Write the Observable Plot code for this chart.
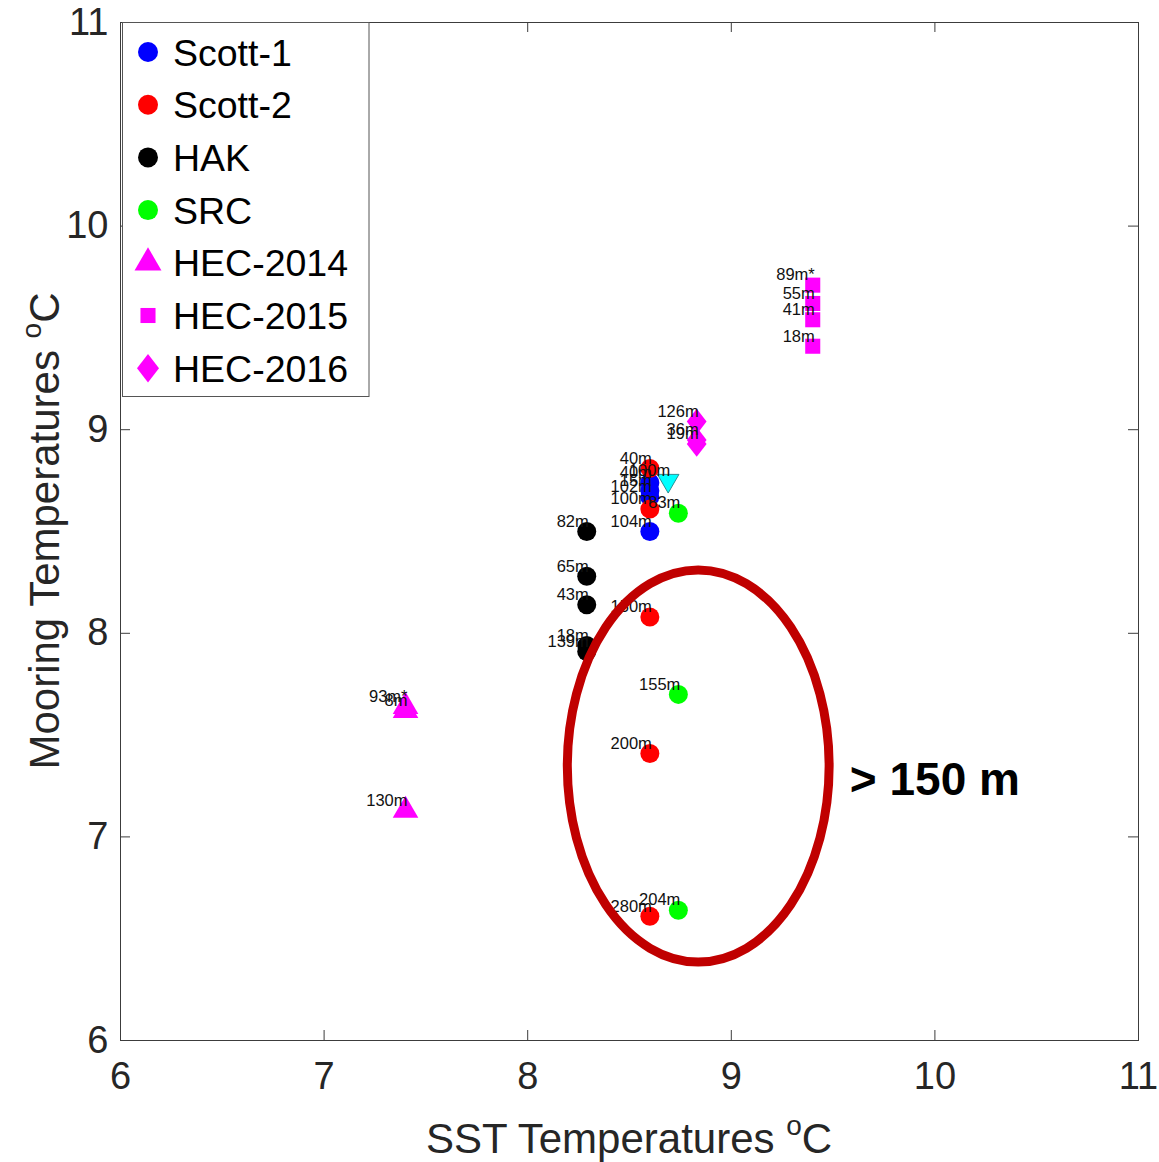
<!DOCTYPE html>
<html>
<head>
<meta charset="utf-8">
<script src="https://cdn.jsdelivr.net/npm/d3@7"></script>
<script src="https://cdn.jsdelivr.net/npm/@observablehq/plot@0.6"></script>
<style>
  html, body { margin: 0; padding: 0; background: #fff; }
  #chart svg { display: block; }
</style>
</head>
<body>
<div id="chart"></div>
<script>
// Mooring temperature vs. satellite SST, one column of depths per mooring.
const seriesNames = ["Scott-1", "Scott-2", "HAK", "SRC", "HEC-2014", "HEC-2015", "HEC-2016"];
const seriesColors = ["#0000ff", "#ff0000", "#000000", "#00ff00", "#ff00ff", "#ff00ff", "#ff00ff"];

// SST (°C) at each mooring
const sstValues = [8.6, 8.6, 8.29, 8.74, 7.40, 9.40, 8.83];

// instrument depth labels and mooring temperatures (°C) per series
const scott1Depths = ["40m", "15m", "102m", "104m"];
const scott1Temps  = [8.74, 8.70, 8.67, 8.50];
const scott2Depths = ["40m", "100m", "150m", "200m", "280m"];
const scott2Temps  = [8.81, 8.61, 8.08, 7.41, 6.61];
const hakDepths    = ["82m", "65m", "43m", "18m", "139m"];
const hakTemps     = [8.50, 8.28, 8.14, 7.94, 7.91];
const srcDepths    = ["83m", "155m", "204m"];
const srcTemps     = [8.59, 7.70, 6.64];
const hec14Depths  = ["93m*", "8m", "130m"];
const hec14Temps   = [7.64, 7.62, 7.13];
const hec15Depths  = ["89m*", "55m", "41m", "18m"];
const hec15Temps   = [9.71, 9.62, 9.54, 9.41];
const hec16Depths  = ["126m", "36m", "19m"];
const hec16Temps   = [9.04, 8.95, 8.93];

// extra instrument shown without a legend entry
const extraSst    = 8.69;
const extraDepths = ["100m"];
const extraTemps  = [8.75];

const axisTicks = [6, 7, 8, 9, 10, 11];

// highlighted deep-instrument region
const ellipseCenter = [8.84, 7.346];
const ellipseRadii  = [0.643, 0.963];
const deepNote = "> 150 m";

// rhombus a little taller than wide
const rhombus = {
  draw(context, size) {
    const w = Math.sqrt(size / 2.6), h = w * 1.3;
    context.moveTo(0, -h);
    context.lineTo(w, 0);
    context.lineTo(0, h);
    context.lineTo(-w, 0);
    context.closePath();
  }
};
const seriesSymbols = [d3.symbolCircle, d3.symbolCircle, d3.symbolCircle, d3.symbolCircle,
                       d3.symbolTriangle, d3.symbolSquare, rhombus];
const seriesR = [9.5, 9.5, 9.5, 9.5, 9.5, 8.5, 9];

const depthLists = [scott1Depths, scott2Depths, hakDepths, srcDepths, hec14Depths, hec15Depths, hec16Depths];
const tempLists  = [scott1Temps, scott2Temps, hakTemps, srcTemps, hec14Temps, hec15Temps, hec16Temps];

const seriesTables = seriesNames.map((name, i) =>
  depthLists[i].map((depth, j) => ({series: name, depth, sst: sstValues[i], temp: tempLists[i][j]}))
);
const extraTable = extraDepths.map((depth, j) => ({series: "extra", depth, sst: extraSst, temp: extraTemps[j]}));
const allPoints = seriesTables.flat().concat(extraTable);

const W = 1159, H = 1162;
const mL = 120, mR = 21, mT = 22, mB = 122;
const frameW = W - mL - mR, frameH = H - mT - mB;
const tickLen = 10;
const axisColor = "#3c3c3c";
const font = "'Liberation Sans', Arial, Helvetica, sans-serif";

const dotMarks = seriesTables.map((rows, i) =>
  Plot.dot(rows, {x: "sst", y: "temp", symbol: seriesSymbols[i], r: seriesR[i], fill: seriesColors[i], stroke: "none"})
);

const plot = Plot.plot({
  width: W,
  height: H,
  marginLeft: mL, marginRight: mR, marginTop: mT, marginBottom: mB,
  style: {fontFamily: font, color: "#262626", background: "#fff", overflow: "visible"},
  x: {domain: [6, 11]},
  y: {domain: [6, 11]},
  marks: [
    Plot.frame({stroke: axisColor, strokeWidth: 1}),
    Plot.tickX(axisTicks, {x: d => d, stroke: axisColor, insetTop: frameH - tickLen}),
    Plot.tickX(axisTicks, {x: d => d, stroke: axisColor, insetBottom: frameH - tickLen}),
    Plot.tickY(axisTicks, {y: d => d, stroke: axisColor, insetRight: frameW - tickLen}),
    Plot.tickY(axisTicks, {y: d => d, stroke: axisColor, insetLeft: frameW - tickLen}),
    Plot.axisX({ticks: axisTicks, tickFormat: d => String(d), tickSize: 0, tickPadding: 22, fontSize: 38, label: null, fill: "#262626"}),
    Plot.axisY({ticks: axisTicks, tickFormat: d => String(d), tickSize: 0, tickPadding: 12, fontSize: 38, label: null, fill: "#262626"}),
    ...dotMarks,
    Plot.dot(extraTable, {x: "sst", y: "temp", symbol: "triangle", rotate: 180, r: 8, fill: "#00ffff", stroke: "#2b8f95", strokeWidth: 1}),
    Plot.text(allPoints, {x: "sst", y: "temp", text: "depth", textAnchor: "end", dx: 2, dy: -10, fontSize: 16.5, fill: "#111"}),
    Plot.text([deepNote], {x: 10.0, y: 7.28, text: d => d, fontSize: 46, fontWeight: "bold", fill: "#000", textAnchor: "middle"})
  ]
});

const svg = d3.select(plot);
const xs = plot.scale("x"), ys = plot.scale("y");

// ellipse around the deep instruments, placed through the plot scales
const cx = xs.apply(ellipseCenter[0]), cy = ys.apply(ellipseCenter[1]);
svg.append("ellipse")
  .attr("cx", cx).attr("cy", cy)
  .attr("rx", xs.apply(ellipseCenter[0] + ellipseRadii[0]) - cx)
  .attr("ry", cy - ys.apply(ellipseCenter[1] + ellipseRadii[1]))
  .attr("fill", "none").attr("stroke", "#c00000").attr("stroke-width", 9);

// axis titles with superscript degree "o"
function addTitle(sel, main) {
  sel.append("tspan").text(main);
  sel.append("tspan").attr("font-size", 28).attr("dy", -18).text("o");
  sel.append("tspan").attr("dy", 18).text("C");
}
addTitle(svg.append("text")
  .attr("x", mL + frameW / 2).attr("y", 1153)
  .attr("text-anchor", "middle").attr("font-size", 42).attr("fill", "#262626"),
  "SST Temperatures ");
addTitle(svg.append("text")
  .attr("transform", `translate(59,${mT + frameH / 2}) rotate(-90)`)
  .attr("text-anchor", "middle").attr("font-size", 42).attr("fill", "#262626"),
  "Mooring Temperatures ");

// legend box
const lg = svg.append("g").attr("font-family", font).attr("text-anchor", "start");
lg.append("rect")
  .attr("x", 122.5).attr("y", 22.5).attr("width", 246.5).attr("height", 374)
  .attr("fill", "#fff").attr("stroke", "#555").attr("stroke-width", 1);
seriesNames.forEach((name, i) => {
  const yy = 52 + i * 52.7;
  const legendR = i === 5 ? 8.5 : 10;
  lg.append("path")
    .attr("transform", `translate(148,${yy})`)
    .attr("d", d3.symbol(seriesSymbols[i], Math.PI * legendR * legendR)())
    .attr("fill", seriesColors[i]);
  lg.append("text")
    .attr("x", 173).attr("y", yy).attr("dy", "0.36em")
    .attr("text-anchor", "start")
    .attr("font-size", 37.5).attr("fill", "#000")
    .text(name);
});

document.getElementById("chart").appendChild(plot);
</script>
</body>
</html>
